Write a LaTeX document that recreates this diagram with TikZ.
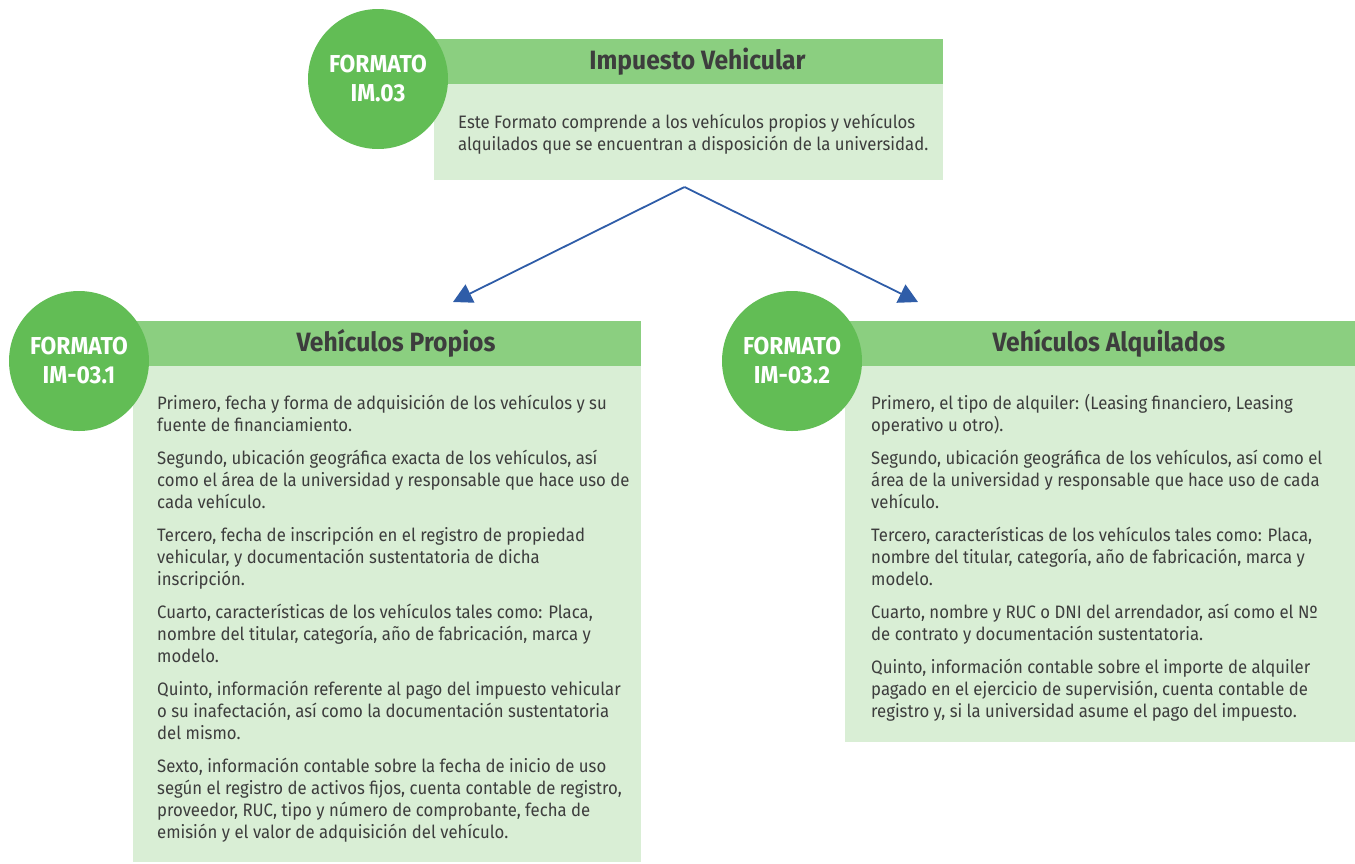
\documentclass[tikz,border=0pt]{standalone}
\usepackage{fontspec}
\setmainfont[FakeStretch=0.93]{Fira Sans}
\usetikzlibrary{positioning,arrows.meta}
\definecolor{verdecab}{HTML}{8BCF80}
\definecolor{verdeclaro}{HTML}{D9EED5}
\definecolor{verdecirc}{HTML}{62BD55}
\definecolor{azulflecha}{HTML}{2F5DA8}
\definecolor{gristexto}{HTML}{3D3D3D}

\begin{document}
\begin{tikzpicture}[x=1pt,y=-1pt]
    \tikzstyle{cab}=[rectangle,fill=verdecab,minimum height=45pt,inner sep=0pt,outer sep=0pt]
    \tikzstyle{caja}=[rectangle,fill=verdeclaro,inner sep=0pt,outer sep=0pt]
    \tikzstyle{formato}=[circle,fill=verdecirc,minimum size=140pt,inner sep=0pt,text=white,align=center,font=\bfseries\fontsize{24.5}{29}\selectfont]
    \tikzstyle{titulo}=[text=gristexto,font=\bfseries\fontsize{26.5}{28}\selectfont]
    \tikzstyle{texto}=[anchor=west,align=left,inner sep=0pt,text=gristexto,font=\fontsize{18}{22}\selectfont]
    \tikzstyle{flecha}=[draw=azulflecha,line width=1.8pt,-{Triangle[length=19pt,width=20pt]}]
    \useasboundingbox (0,0) rectangle (1355,863);
    \node[caja,minimum width=509pt,minimum height=96pt,anchor=north west] (impCuerpo) at (434,84) {};
    \node[cab,minimum width=509pt,above=0pt of impCuerpo] (impCab) {};
    \node[titulo] (impTitulo) at ([xshift=9pt]impCab.center) {Impuesto Vehicular};
    \node[texto] (impTexto) at ([xshift=24pt,yshift=-2pt]impCuerpo.west) {Este Formato comprende a los vehículos propios y vehículos\\alquilados que se encuentran a disposición de la universidad.};
    \node[formato] (im03) at (378,79) {FORMATO\\IM.03};
    \node[caja,minimum width=508pt,minimum height=496pt,anchor=north west] (propCuerpo) at (133,366) {};
    \node[cab,minimum width=508pt,above=0pt of propCuerpo] (propCab) {};
    \node[titulo] (propTitulo) at ([xshift=9pt]propCab.center) {Vehículos Propios};
    \node[texto] (propTexto) at ([xshift=24pt,yshift=-5pt]propCuerpo.west) {Primero, fecha y forma de adquisición de los vehículos y su\\fuente de financiamiento.\\[11pt]
      Segundo, ubicación geográfica exacta de los vehículos, así\\como el área de la universidad y responsable que hace uso de\\cada vehículo.\\[11pt]
      Tercero, fecha de inscripción en el registro de propiedad\\vehicular, y documentación sustentatoria de dicha\\inscripción.\\[11pt]
      Cuarto, características de los vehículos tales como: Placa,\\nombre del titular, categoría, año de fabricación, marca y\\modelo.\\[11pt]
      Quinto, información referente al pago del impuesto vehicular\\o su inafectación, así como la documentación sustentatoria\\del mismo.\\[11pt]
      Sexto, información contable sobre la fecha de inicio de uso\\según el registro de activos fijos, cuenta contable de registro,\\proveedor, RUC, tipo y número de comprobante, fecha de\\emisión y el valor de adquisición del vehículo.};
    \node[formato] (im031) at (79,361) {FORMATO\\IM-03.1};
    \node[caja,minimum width=510pt,minimum height=376pt,anchor=north west] (alqCuerpo) at (845,366) {};
    \node[cab,minimum width=510pt,above=0pt of alqCuerpo] (alqCab) {};
    \node[titulo] (alqTitulo) at ([xshift=9pt]alqCab.center) {Vehículos Alquilados};
    \node[texto] (alqTexto) at ([xshift=26pt,yshift=-4pt]alqCuerpo.west) {Primero, el tipo de alquiler: (Leasing financiero, Leasing\\operativo u otro).\\[11pt]
      Segundo, ubicación geográfica de los vehículos, así como el\\área de la universidad y responsable que hace uso de cada\\vehículo.\\[11pt]
      Tercero, características de los vehículos tales como: Placa,\\nombre del titular, categoría, año de fabricación, marca y\\modelo.\\[11pt]
      Cuarto, nombre y RUC o DNI del arrendador, así como el Nº\\de contrato y documentación sustentatoria.\\[11pt]
      Quinto, información contable sobre el importe de alquiler\\pagado en el ejercicio de supervisión, cuenta contable de\\registro y, si la universidad asume el pago del impuesto.};
    \node[formato] (im032) at (792,361) {FORMATO\\IM-03.2};
    \coordinate (finProp) at (453,302);
    \coordinate (finAlq) at (918,302);
    \draw[flecha] ([xshift=-4pt,yshift=-7pt]impCuerpo.south) -- (finProp);
    \draw[flecha] ([xshift=-4pt,yshift=-7pt]impCuerpo.south) -- (finAlq);
\end{tikzpicture}
\end{document}
